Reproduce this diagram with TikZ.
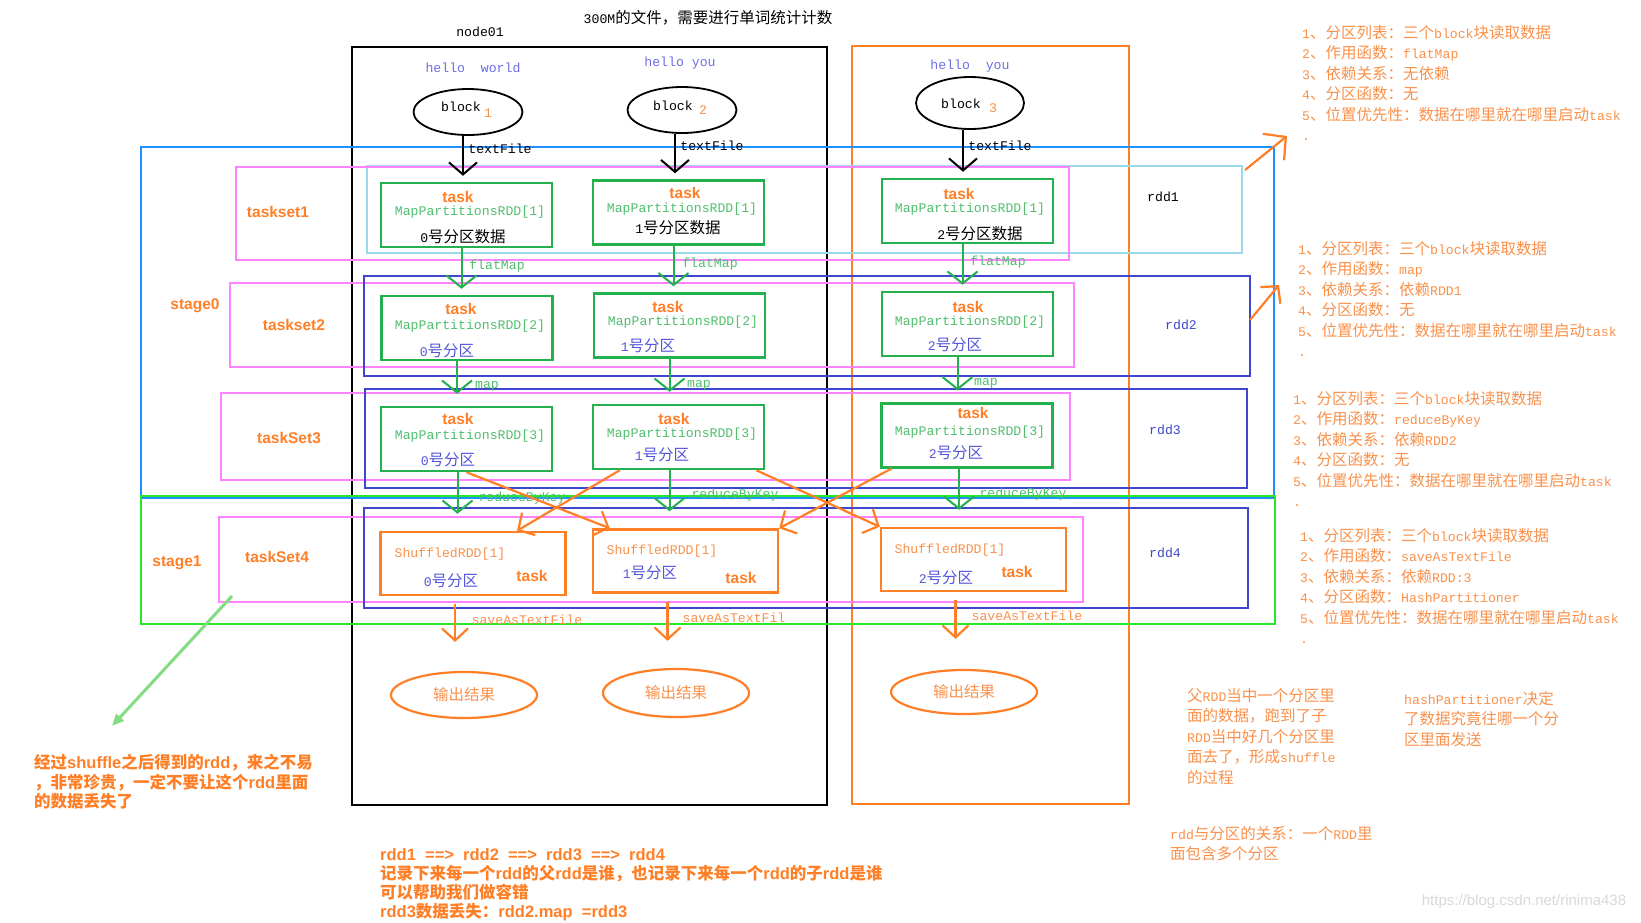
\documentclass[tikz,border=0pt]{standalone}
\usepackage{fontspec}
\setmainfont{Liberation Mono}[Scale=0.85]
\newfontfamily\cjkfont{Noto Sans CJK SC}
\newfontfamily\sansfont{Liberation Sans}
\usepackage{tikz}
\usetikzlibrary{arrows.meta,shapes.geometric}

\XeTeXinterchartokenstate=1
\newXeTeXintercharclass\cjkcls
\newcount\cjkn
\def\cjkrange#1#2{\cjkn=#1\relax\loop\XeTeXcharclass\cjkn=\cjkcls\advance\cjkn by 1\relax\ifnum\cjkn<#2\relax\repeat}
\cjkrange{"3000}{"3040}
\cjkrange{"4E00}{"A000}
\cjkrange{"FF00}{"FFF0}
\XeTeXinterchartoks 0 \cjkcls={\begingroup\cjkfont}
\XeTeXinterchartoks 4095 \cjkcls={\begingroup\cjkfont}
\XeTeXinterchartoks \cjkcls 0={\endgroup}
\XeTeXinterchartoks \cjkcls 4095={\endgroup}

\definecolor{pgreen}{RGB}{34,177,76}
\definecolor{porange}{RGB}{255,127,39}
\definecolor{pblue}{RGB}{30,144,255}
\definecolor{plime}{RGB}{40,230,40}
\definecolor{pcyan}{RGB}{153,217,234}
\definecolor{ppink}{RGB}{255,130,255}
\definecolor{pindigo}{RGB}{63,72,204}
\definecolor{tgreen}{RGB}{80,190,110}
\definecolor{tblue}{RGB}{85,85,220}
\definecolor{thello}{RGB}{110,110,230}
\definecolor{torange}{RGB}{250,145,75}
\definecolor{lgreen}{RGB}{130,220,130}

\begin{document}
\begin{tikzpicture}[x=1pt,y=-1pt,
  taskbox/.style={draw=pgreen,line width=2.5pt,minimum width=171pt,minimum height=64pt,inner sep=0pt},
  shufbox/.style={draw=porange,line width=2.5pt,minimum width=185pt,minimum height=63pt,inner sep=0pt},
  blockell/.style={draw,ellipse,line width=1.8pt,minimum width=109pt,minimum height=46pt,inner sep=0pt},
  outell/.style={draw=porange,ellipse,line width=2.2pt,minimum width=146pt,minimum height=46pt,inner sep=0pt,text=torange,font=\fontsize{15.5}{18}\selectfont},
  txt/.style={font=\fontsize{15.5}{18}\selectfont,inner sep=0pt},
  boldtxt/.style={font=\sansfont\bfseries\fontsize{15.5}{18}\selectfont,text=porange,inner sep=0pt},
  note/.style={font=\fontsize{15.5}{20.5}\selectfont,text=torange,align=left,anchor=north west,inner sep=0pt},
  flow/.style={draw=pgreen,line width=2pt,-{Straight Barb[length=12pt,width=30pt]}},
  shuf/.style={draw=porange,line width=2.2pt,-{Straight Barb[length=12pt,width=26pt]}},
  hand/.style={draw=porange,line width=2.2pt,-{Straight Barb[length=16pt,width=34pt]}}]

\fill[white] (0,0) rectangle (1641,922);
\useasboundingbox (0,0) rectangle (1641,922);

\draw[line width=2.5pt] (352,47) rectangle (827,805);
\draw[porange,line width=2.5pt] (852,46) rectangle (1129,804);
\draw[pblue,line width=1.5pt] (141,147) rectangle (1274,498);
\draw[plime,line width=1.8pt] (141,496) rectangle (1275,624);
\draw[pcyan,line width=2pt] (367,166) rectangle (1242,253);
\draw[ppink,line width=1.5pt] (236,167) rectangle (1069,260);
\draw[ppink,line width=1.5pt] (230,283) rectangle (1074,367);
\draw[ppink,line width=1.5pt] (221,393) rectangle (1070,480);
\draw[ppink,line width=1.5pt] (219,517) rectangle (1083,602);
\draw[pindigo,line width=2.5pt] (364,276) rectangle (1250,376);
\draw[pindigo,line width=2.5pt] (365,389) rectangle (1247,488);
\draw[pindigo,line width=2.5pt] (364,508) rectangle (1248,608);

\draw (708,18) node (title) [txt] {300M的文件，需要进行单词统计计数};
\draw (480,32) node (node01) [txt] {node01};

\draw (473,68) node (h1) [txt,text=thello] {hello\ \ world};
\draw (680,63) node (h2) [txt,text=thello] {hello you};
\draw (970,66) node (h3) [txt,text=thello] {hello\ \ you};

\draw (468,112) node (b1) [blockell] {};
\draw (682,110) node (b2) [blockell] {};
\draw (970,103) node (b3) [blockell,minimum width=108pt,minimum height=52pt] {};
\draw (461,107) node (b1t) [txt] {block};
\draw (488,113) node (b1n) [txt,text=torange] {1};
\draw (673,106) node (b2t) [txt] {block};
\draw (703,110) node (b2n) [txt,text=torange] {2};
\draw (961,104) node (b3t) [txt] {block};
\draw (993,108) node (b3n) [txt,text=torange] {3};

\draw (466.5,215) node (t11) [taskbox] {};
\draw (678.5,212.5) node (t12) [taskbox] {};
\draw (967.5,211) node (t13) [taskbox] {};
\draw (458,197) node (t11k) [boldtxt] {task};
\draw (470,212) node (t11r) [txt,text=tgreen] {MapPartitionsRDD[1]};
\draw (463,237) node (t11p) [txt] {0号分区数据};
\draw (685,193) node (t12k) [boldtxt] {task};
\draw (682,209) node (t12r) [txt,text=tgreen] {MapPartitionsRDD[1]};
\draw (678,228) node (t12p) [txt] {1号分区数据};
\draw (959,194) node (t13k) [boldtxt] {task};
\draw (970,209) node (t13r) [txt,text=tgreen] {MapPartitionsRDD[1]};
\draw (980,234) node (t13p) [txt] {2号分区数据};

\draw (467,328) node (t21) [taskbox] {};
\draw (679.5,325.5) node (t22) [taskbox] {};
\draw (967.5,324) node (t23) [taskbox] {};
\draw (461,309) node (t21k) [boldtxt] {task};
\draw (470,326) node (t21r) [txt,text=tgreen] {MapPartitionsRDD[2]};
\draw (447,351) node (t21p) [txt,text=tblue] {0号分区};
\draw (668,307) node (t22k) [boldtxt] {task};
\draw (683,322) node (t22r) [txt,text=tgreen] {MapPartitionsRDD[2]};
\draw (648,346) node (t22p) [txt,text=tblue] {1号分区};
\draw (968,307) node (t23k) [boldtxt] {task};
\draw (970,322) node (t23r) [txt,text=tgreen] {MapPartitionsRDD[2]};
\draw (955,345) node (t23p) [txt,text=tblue] {2号分区};

\draw (466.5,439) node (t31) [taskbox] {};
\draw (678.5,437) node (t32) [taskbox] {};
\draw (967,435.5) node (t33) [taskbox] {};
\draw (458,419) node (t31k) [boldtxt] {task};
\draw (470,436) node (t31r) [txt,text=tgreen] {MapPartitionsRDD[3]};
\draw (448,460) node (t31p) [txt,text=tblue] {0号分区};
\draw (674,419) node (t32k) [boldtxt] {task};
\draw (682,434) node (t32r) [txt,text=tgreen] {MapPartitionsRDD[3]};
\draw (662,455) node (t32p) [txt,text=tblue] {1号分区};
\draw (973,413) node (t33k) [boldtxt] {task};
\draw (970,432) node (t33r) [txt,text=tgreen] {MapPartitionsRDD[3]};
\draw (956,453) node (t33p) [txt,text=tblue] {2号分区};

\draw (473,563.5) node (s41) [shufbox] {};
\draw (685.5,561) node (s42) [shufbox] {};
\draw (973.5,559.5) node (s43) [shufbox] {};
\draw (450,554) node (s41r) [txt,text=torange] {ShuffledRDD[1]};
\draw (451,581) node (s41p) [txt,text=tblue] {0号分区};
\draw (532,576) node (s41k) [boldtxt] {task};
\draw (662,551) node (s42r) [txt,text=torange] {ShuffledRDD[1]};
\draw (650,573) node (s42p) [txt,text=tblue] {1号分区};
\draw (741,578) node (s42k) [boldtxt] {task};
\draw (950,550) node (s43r) [txt,text=torange] {ShuffledRDD[1]};
\draw (946,578) node (s43p) [txt,text=tblue] {2号分区};
\draw (1017,572) node (s43k) [boldtxt] {task};

\draw (464,695) node (o1) [outell] {输出结果};
\draw (676,693) node (o2) [outell,minimum height=48pt] {输出结果};
\draw (964,692) node (o3) [outell,minimum height=44pt] {输出结果};

\draw[line width=2pt,-{Straight Barb[length=12pt,width=28pt]},shorten >=6pt] ([xshift=-5pt]b1.south) -- ([xshift=-5pt]b1.south |- t11.north);
\draw[line width=2pt,-{Straight Barb[length=12pt,width=28pt]},shorten >=6pt] ([xshift=-7pt]b2.south) -- ([xshift=-7pt]b2.south |- t12.north);
\draw[line width=2pt,-{Straight Barb[length=12pt,width=28pt]},shorten >=6pt] ([xshift=-7pt]b3.south) -- ([xshift=-7pt]b3.south |- t13.north);
\draw (500,149) node (tf1) [txt] {textFile};
\draw (712,146) node (tf2) [txt] {textFile};
\draw (1000,146) node (tf3) [txt] {textFile};

\draw[flow,shorten >=6pt] ([xshift=-5pt]t11.south) -- ([xshift=-5pt]t11.south |- t21.north);
\draw[flow,shorten >=6pt] ([xshift=-5pt]t12.south) -- ([xshift=-5pt]t12.south |- t22.north);
\draw[flow,shorten >=6pt] ([xshift=-5pt]t13.south) -- ([xshift=-5pt]t13.south |- t23.north);
\draw (497,266) node (fm1) [txt,text=tgreen] {flatMap};
\draw (710,264) node (fm2) [txt,text=tgreen] {flatMap};
\draw (998,262) node (fm3) [txt,text=tgreen] {flatMap};

\draw[flow,shorten >=12pt] ([xshift=-10pt]t21.south) -- ([xshift=-10pt]t21.south |- t31.north);
\draw[flow,shorten >=12pt] ([xshift=-10pt]t22.south) -- ([xshift=-10pt]t22.south |- t32.north);
\draw[flow,shorten >=12pt] ([xshift=-10pt]t23.south) -- ([xshift=-10pt]t23.south |- t33.north);
\draw (487,386) node (mp1) [txt,text=tgreen] {map};
\draw (699,385) node (mp2) [txt,text=tgreen] {map};
\draw (986,383) node (mp3) [txt,text=tgreen] {map};

\draw[flow,shorten >=17pt] ([xshift=-9pt]t31.south) -- ([xshift=-9pt]t31.south |- s41.north);
\draw[flow,shorten >=17pt] ([xshift=-9pt]t32.south) -- ([xshift=-9pt]t32.south |- s42.north);
\draw[flow,shorten >=17pt] ([xshift=-8pt]t33.south) -- ([xshift=-8pt]t33.south |- s43.north);
\draw (522,498) node (rk1) [txt,text=tgreen] {reduceByKey};
\draw (735,495) node (rk2) [txt,text=tgreen] {reduceByKey};
\draw (1023,494) node (rk3) [txt,text=tgreen] {reduceByKey};

\draw[shuf] (t31.south) -- ([xshift=18pt]s42.north west);
\draw[shuf] ([xshift=28pt]t32.south west) -- ([xshift=44pt]s41.north);
\draw[shuf] ([xshift=-9pt]t32.south east) -- (s43.north west);
\draw[shuf] ([xshift=11pt]t33.south west) -- (s42.north east);

\draw[shuf,shorten <=8pt,shorten >=29pt] ([xshift=-18pt]s41.south) -- ([xshift=-18pt]s41.south |- o1.north);
\draw[shuf,shorten <=8pt,shorten >=27pt] ([xshift=-18pt]s42.south) -- ([xshift=-18pt]s42.south |- o2.north);
\draw[shuf,shorten <=8pt,shorten >=30pt] ([xshift=-18pt]s43.south) -- ([xshift=-18pt]s43.south |- o3.north);
\draw (527,620) node (sv1) [txt,text=torange] {saveAsTextFile};
\draw (734,618) node (sv2) [txt,text=torange] {saveAsTextFil};
\draw (1027,616) node (sv3) [txt,text=torange] {saveAsTextFile};

\draw (278,212) node (ts1) [boldtxt] {taskset1};
\draw (294,325) node (ts2) [boldtxt] {taskset2};
\draw (289,438) node (ts3) [boldtxt] {taskSet3};
\draw (277,557) node (ts4) [boldtxt] {taskSet4};
\draw (195,306) node (st0) [boldtxt] {stage0};
\draw (177,563) node (st1) [boldtxt] {stage1};

\draw (1163,197) node (r1) [txt] {rdd1};
\draw (1181,325) node (r2) [txt,text=pindigo] {rdd2};
\draw (1165,430) node (r3) [txt,text=pindigo] {rdd3};
\draw (1165,553) node (r4) [txt,text=pindigo] {rdd4};

\draw (1302,25) node (n1) [note] {1、分区列表：三个block块读取数据\\2、作用函数：flatMap\\3、依赖关系：无依赖\\4、分区函数：无\\5、位置优先性：数据在哪里就在哪里启动task\\.};
\draw (1298,241) node (n2) [note] {1、分区列表：三个block块读取数据\\2、作用函数：map\\3、依赖关系：依赖RDD1\\4、分区函数：无\\5、位置优先性：数据在哪里就在哪里启动task\\.};
\draw (1293,391) node (n3) [note] {1、分区列表：三个block块读取数据\\2、作用函数：reduceByKey\\3、依赖关系：依赖RDD2\\4、分区函数：无\\5、位置优先性：数据在哪里就在哪里启动task\\.};
\draw (1300,528) node (n4) [note] {1、分区列表：三个block块读取数据\\2、作用函数：saveAsTextFile\\3、依赖关系：依赖RDD:3\\4、分区函数：HashPartitioner\\5、位置优先性：数据在哪里就在哪里启动task\\.};

\coordinate (h1a) at (1245,170);
\coordinate (h1b) at (1287,136);
\draw[hand] (h1a) -- (h1b);
\coordinate (h2a) at (1250,320);
\coordinate (h2b) at (1279,285);
\draw[hand,-{Straight Barb[length=12pt,width=26pt]}] (h2a) -- (h2b);

\draw (1187,688) node (nshuf) [note] {父RDD当中一个分区里\\面的数据，跑到了子\\RDD当中好几个分区里\\面去了，形成shuffle\\的过程};
\draw (1404,691) node (nhash) [note] {hashPartitioner决定\\了数据究竟往哪一个分\\区里面发送};
\draw (1170,826) node (nrel) [note] {rdd与分区的关系：一个RDD里\\面包含多个分区};

\coordinate (g1) at (232,596);
\coordinate (g2) at (112,726);
\draw[lgreen,line width=3pt,-{Triangle[length=12pt,width=10pt]}] (g1) -- (g2);
\draw (34,754) node (nkeep) [note,font=\sansfont\bfseries\fontsize{16.5}{19.5}\selectfont,text=porange] {经过shuffle之后得到的rdd，来之不易\\，非常珍贵，一定不要让这个rdd里面\\的数据丢失了};

\draw (380,848) node (nlin) [note,font=\sansfont\bfseries\fontsize{16.5}{19}\selectfont,text=porange] {rdd1\ \ ==>\ \ rdd2\ \ ==>\ \ rdd3\ \ ==>\ \ rdd4\\记录下来每一个rdd的父rdd是谁，也记录下来每一个rdd的子rdd是谁\\可以帮助我们做容错\\rdd3数据丢失：rdd2.map\ \ =rdd3};

\draw (1524,902) node (wm) [inner sep=0pt,font=\sansfont\fontsize{15}{17}\selectfont,text=black!15] {https://blog.csdn.net/rinima438};
\end{tikzpicture}
\end{document}
